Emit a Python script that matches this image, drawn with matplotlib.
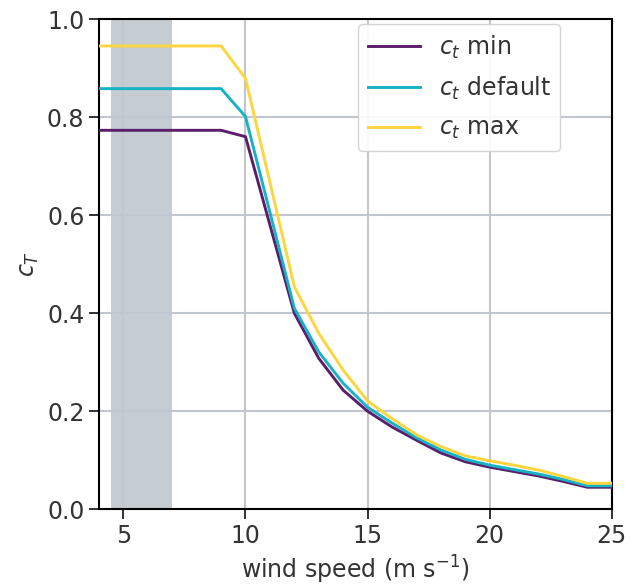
import numpy as np
import matplotlib
matplotlib.use("Agg")
import matplotlib.pyplot as plt

# thrust coefficient curves on integer wind speeds
wind_speed = [4, 5, 6, 7, 8, 9, 10, 11, 12, 13, 14, 15, 16, 17, 18, 19, 20, 21, 22, 23, 24, 25]
ct_min = [0.773, 0.773, 0.773, 0.773, 0.773, 0.773, 0.760, 0.580, 0.400, 0.308, 0.243, 0.200,
          0.168, 0.141, 0.115, 0.097, 0.086, 0.077, 0.068, 0.057, 0.045, 0.045]
ct_default = [0.858, 0.858, 0.858, 0.858, 0.858, 0.858, 0.801, 0.606, 0.410, 0.321, 0.257, 0.208,
              0.176, 0.146, 0.121, 0.102, 0.090, 0.081, 0.072, 0.061, 0.048, 0.048]
ct_max = [0.945, 0.945, 0.945, 0.945, 0.945, 0.945, 0.879, 0.667, 0.454, 0.359, 0.284, 0.221,
          0.185, 0.152, 0.128, 0.109, 0.099, 0.090, 0.080, 0.067, 0.053, 0.053]
span = (4.5, 7.0)

plt.rcParams.update({"font.size": 17, "text.color": "#333333",
                     "axes.labelcolor": "#333333", "xtick.color": "#222222",
                     "ytick.color": "#222222", "xtick.labelcolor": "#333333",
                     "ytick.labelcolor": "#333333"})

fig = plt.figure(figsize=(6.33, 5.85), dpi=100)
ax = fig.add_axes([0.1564, 0.1294, 0.81, 0.8381])

ax.axvspan(*span, color="slategray", alpha=0.4, lw=0, zorder=0)
ax.grid(True, color="#c2c6ce", lw=1.5, zorder=1)
ax.set_axisbelow(True)

ax.plot(wind_speed, ct_min, color="#5a1e6c", lw=2.1, label="$c_t$ min", zorder=3)
ax.plot(wind_speed, ct_default, color="#17b2c4", lw=2.1, label="$c_t$ default", zorder=3)
ax.plot(wind_speed, ct_max, color="#fcd53f", lw=2.1, label="$c_t$ max", zorder=3)

ax.set_xlim(4, 25)
ax.set_ylim(0, 1.0)
ax.set_xticks([5, 10, 15, 20, 25])
ax.set_yticks(np.arange(0, 1.01, 0.2))
ax.yaxis.set_major_formatter(matplotlib.ticker.FormatStrFormatter("%.1f"))
ax.tick_params(length=7, width=1.3)
for s in ax.spines.values():
    s.set_linewidth(1.5)

ax.set_xlabel("wind speed (m s$^{-1}$)", labelpad=4)
ax.set_ylabel("$c_T$")

ax.legend(loc="upper right", bbox_to_anchor=(0.9, 0.99), borderaxespad=0,
          fontsize=17, handlelength=2.2, labelspacing=0.6, framealpha=0.9,
          edgecolor="#d0d0d0")

fig.savefig("out.png")
